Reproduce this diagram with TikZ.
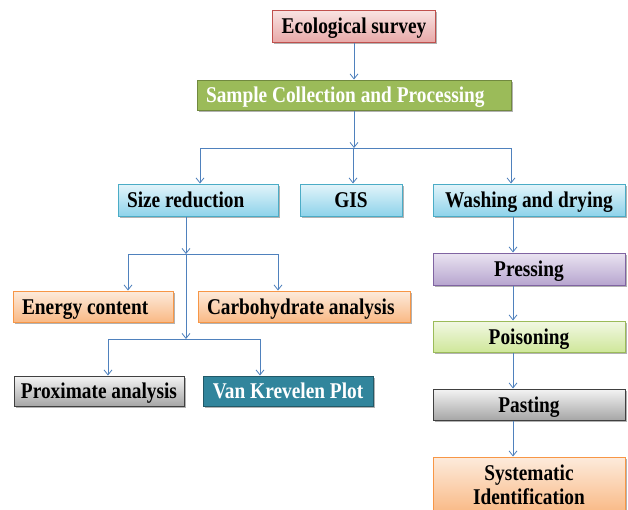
\documentclass[tikz,border=0pt]{standalone}
\usepackage{fontspec}
\setmainfont{Liberation Serif}[FakeStretch=0.86]
\usetikzlibrary{arrows.meta,shadows}
\definecolor{conn}{HTML}{4F81BD}
\definecolor{pinkT}{HTML}{F9E4E3}\definecolor{pinkB}{HTML}{E8A9A8}\definecolor{pinkD}{HTML}{C0504D}
\definecolor{olive}{HTML}{9BBB59}\definecolor{oliveD}{HTML}{71893F}
\definecolor{cyanT}{HTML}{E3F4FA}\definecolor{cyanB}{HTML}{8ED3EA}\definecolor{cyanD}{HTML}{4BACC6}
\definecolor{orT}{HTML}{FDEBDC}\definecolor{orB}{HTML}{F9B985}\definecolor{orD}{HTML}{F79646}
\definecolor{grT}{HTML}{F4F4F4}\definecolor{grB}{HTML}{A6A6A6}\definecolor{grD}{HTML}{404040}
\definecolor{teal}{HTML}{31859C}\definecolor{tealD}{HTML}{215968}
\definecolor{puT}{HTML}{EAE4F1}\definecolor{puB}{HTML}{B7A5CF}\definecolor{puD}{HTML}{8064A2}
\definecolor{gnT}{HTML}{F2F8E4}\definecolor{gnB}{HTML}{CFE79A}\definecolor{gnD}{HTML}{9BBB59}
\tikzset{
  box/.style={rectangle, line width=1pt, inner xsep=9pt, inner ysep=0pt,
    font=\fontsize{22.5}{24}\selectfont\bfseries,
    drop shadow={shadow xshift=1.5pt, shadow yshift=-1.5pt, opacity=0.3, fill=black}},
  onel/.style={text height=15pt, text depth=0pt},
  pinkbox/.style={box, onel, draw=pinkD, top color=pinkT, bottom color=pinkB},
  olivebox/.style={box, onel, draw=oliveD, fill=olive, text=white},
  cyanbox/.style={box, onel, draw=cyanD, top color=cyanT, bottom color=cyanB},
  orbox/.style={box, draw=orD, top color=orT, bottom color=orB},
  grbox/.style={box, onel, draw=grD, top color=grT, bottom color=grB},
  tealbox/.style={box, onel, draw=tealD, fill=teal, text=white},
  pubox/.style={box, onel, draw=puD, top color=puT, bottom color=puB},
  gnbox/.style={box, onel, draw=gnD, top color=gnT, bottom color=gnB},
  conn/.style={draw=conn, line width=0.8pt},
  arr/.style={conn, -{Straight Barb[length=5pt,width=8pt]}},
}
\begin{document}
\begin{tikzpicture}[x=1pt,y=-1pt]
\useasboundingbox (0,0) rectangle (628,509);
\fill[white] (0,0) rectangle (628,509);
% nodes
\node[pinkbox, minimum width=160, minimum height=32] (eco) at (354,26) {Ecological survey};
\node[olivebox, minimum width=314, minimum height=30, text width=296, align=flush left] (sample) at (354,95) {Sample Collection and Processing};
\node[cyanbox, minimum width=160, minimum height=32, text width=142, align=flush left] (size) at (198,200) {Size reduction};
\node[cyanbox, minimum width=102, minimum height=32] (gis) at (351,200) {GIS};
\node[cyanbox, minimum width=192, minimum height=32] (wash) at (529,200) {Washing and drying};
\node[orbox, onel, minimum width=160, minimum height=31, text width=142, align=flush left] (energy) at (93,306.5) {Energy content};
\node[orbox, onel, minimum width=212, minimum height=31, text width=194, align=flush left] (carb) at (304,306.5) {Carbohydrate analysis};
\node[grbox, minimum width=170, minimum height=30, inner xsep=4pt] (prox) at (99,391) {Proximate analysis};
\node[tealbox, minimum width=170, minimum height=30, inner xsep=4pt] (van) at (288,391) {Van Krevelen Plot};
\node[pubox, minimum width=192, minimum height=32] (press) at (529,269) {Pressing};
\node[gnbox, minimum width=192, minimum height=31] (poison) at (529,336.5) {Poisoning};
\node[grbox, minimum width=192, minimum height=31] (paste) at (529,404.5) {Pasting};
\node[orbox, minimum width=192, minimum height=56, align=center, font=\fontsize{22.5}{23.5}\selectfont\bfseries] (syst) at (529,485) {Systematic\\Identification};
% coordinates
\coordinate (b1) at (354,148);
\coordinate (b1L) at (200,148);
\coordinate (b1M) at (353,148);
\coordinate (b1R) at (511,148);
\coordinate (sx) at (186,0);
\coordinate (b2) at (186,254);
\coordinate (b2L) at (128,254);
\coordinate (b2R) at (278,254);
\coordinate (b3) at (186,339);
\coordinate (b3L) at (108,339);
\coordinate (b3R) at (260,339);
\coordinate (rx) at (513,0);
% connectors
\draw[arr] (eco.south) -- (sample.north);
\draw[arr] (sample.south) -- (b1);
\draw[conn] (b1L) -- (b1R);
\draw[arr] (b1L) -- (b1L |- size.north);
\draw[arr] (b1M) -- (b1M |- gis.north);
\draw[arr] (b1R) -- (b1R |- wash.north);
\draw[arr] (sx |- size.south) -- (b2);
\draw[conn] (b2L) -- (b2R);
\draw[arr] (b2L) -- (b2L |- energy.north);
\draw[arr] (b2R) -- (b2R |- carb.north);
\draw[arr] (b2) -- (b3);
\draw[conn] (b3L) -- (b3R);
\draw[arr] (b3L) -- (b3L |- prox.north);
\draw[arr] (b3R) -- (b3R |- van.north);
\draw[arr] (rx |- wash.south) -- (rx |- press.north);
\draw[arr] (rx |- press.south) -- (rx |- poison.north);
\draw[arr] (rx |- poison.south) -- (rx |- paste.north);
\draw[arr] (rx |- paste.south) -- (rx |- syst.north);
\end{tikzpicture}
\end{document}
